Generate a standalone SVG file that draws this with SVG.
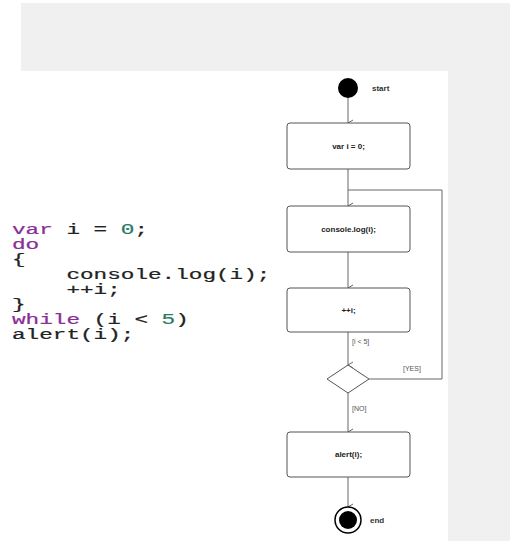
<svg xmlns="http://www.w3.org/2000/svg" width="510" height="541" viewBox="0 0 510 541">
<style>
.code{font-family:"Liberation Mono","Courier New",monospace;font-size:14px;fill:#222;stroke:#222;stroke-width:0.2}
.kw{fill:#8a2e96;stroke:#8a2e96}
.num{fill:#2b7a66;stroke:#2b7a66}
.box{fill:#fff;stroke:#555;stroke-width:1}
.lbl{font-family:"Liberation Sans",Arial,sans-serif;font-size:8px;font-weight:bold;fill:#222;text-anchor:middle}
.guard{font-family:"Liberation Sans",Arial,sans-serif;font-size:7px;fill:#555}
.term{font-family:"Liberation Sans",Arial,sans-serif;font-size:8px;font-weight:bold;fill:#333}
.edge{fill:none;stroke:#666;stroke-width:1}
</style>
<defs>
<marker id="arr" markerWidth="8" markerHeight="8" refX="4" refY="6" orient="auto" markerUnits="userSpaceOnUse" viewBox="0 0 8 8">
<path d="M1,1 L4,6 L7,1" fill="none" stroke="#666" stroke-width="1"/>
</marker>
</defs>
<rect x="0" y="0" width="510" height="541" fill="#fff"/>
<rect x="21" y="3" width="489" height="68" fill="#f0f0f0"/>
<rect x="448" y="71" width="62" height="470" fill="#f0f0f0"/>

<g id="code" transform="translate(12,0) scale(1.62,1)">
<text class="code" x="0" y="234"><tspan class="kw">var</tspan> i = <tspan class="num">0</tspan>;</text>
<text class="code" x="0" y="249"><tspan class="kw">do</tspan></text>
<text class="code" x="0" y="264">{</text>
<text class="code" x="33.6" y="279">console.log(i);</text>
<text class="code" x="33.6" y="294">++i;</text>
<text class="code" x="0" y="309">}</text>
<text class="code" x="0" y="324" xml:space="preserve"><tspan class="kw">while</tspan> (i &lt; <tspan class="num">5</tspan>)</text>
<text class="code" x="0" y="339">alert(i);</text>
</g>

<g id="connectors">
<line class="edge" x1="348" y1="98" x2="348" y2="123" marker-end="url(#arr)"/>
<line class="edge" x1="348" y1="169" x2="348" y2="206" marker-end="url(#arr)"/>
<line class="edge" x1="348" y1="252" x2="348" y2="288" marker-end="url(#arr)"/>
<line class="edge" x1="348" y1="332" x2="348" y2="365" marker-end="url(#arr)"/>
<polyline class="edge" points="369,379 442,379 442,190 348,190"/>
<line class="edge" x1="348" y1="393" x2="348" y2="432" marker-end="url(#arr)"/>
<line class="edge" x1="348" y1="477" x2="348" y2="507" marker-end="url(#arr)"/>
<text class="guard" x="352" y="344">[i &lt; 5]</text>
<text class="guard" x="403" y="371">[YES]</text>
<text class="guard" x="352" y="411">[NO]</text>
</g>

<g id="start">
<circle cx="348" cy="88" r="10" fill="#000"/>
<text class="term" x="372" y="91">start</text>
</g>
<g id="init">
<rect class="box" x="287" y="123" width="123" height="46" rx="3"/>
<text class="lbl" x="348.5" y="149">var i = 0;</text>
</g>
<g id="log">
<rect class="box" x="287" y="206" width="123" height="46" rx="3"/>
<text class="lbl" x="348.5" y="232">console.log(i);</text>
</g>
<g id="inc">
<rect class="box" x="287" y="288" width="123" height="44" rx="3"/>
<text class="lbl" x="348.5" y="313">++i;</text>
</g>
<g id="decision">
<polygon points="348,365 369,379 348,393 327,379" fill="#fff" stroke="#555" stroke-width="1"/>
</g>
<g id="alert">
<rect class="box" x="287" y="432" width="123" height="45" rx="3"/>
<text class="lbl" x="348.5" y="457">alert(i);</text>
</g>
<g id="end">
<circle cx="348" cy="520" r="13" fill="#fff" stroke="#000" stroke-width="1.5"/>
<circle cx="348" cy="520" r="9" fill="#000"/>
<text class="term" x="370" y="523">end</text>
</g>
</svg>
